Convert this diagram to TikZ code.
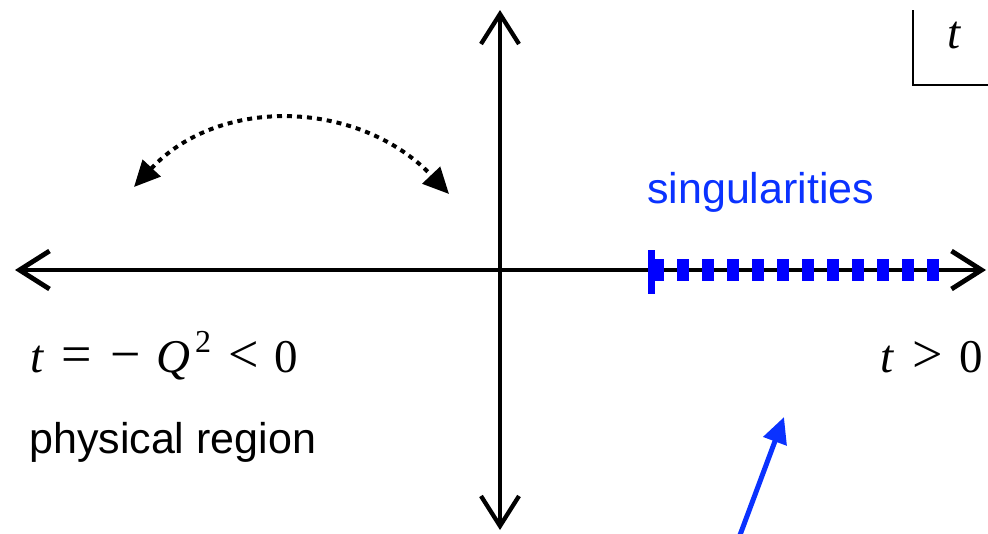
\documentclass[tikz,border=0pt]{standalone}
\usepackage{fontspec}
\setmainfont{Liberation Sans}
\newfontfamily\timesfont{Liberation Serif}
\usetikzlibrary{arrows.meta}
\definecolor{singblue}{RGB}{0,0,255}
\definecolor{textblue}{RGB}{10,50,255}
\definecolor{pointblue}{RGB}{10,50,255}
\newcommand{\bigtext}{\fontsize{43}{50}\selectfont}
\newcommand{\mathtext}{\timesfont\fontsize{47}{50}\selectfont}
\newcommand{\mathsym}[1]{{\fontsize{54}{60}\selectfont\upshape #1}}
\newcommand{\supertwo}{\raisebox{20pt}{\fontsize{32}{32}\selectfont\upshape 2}}

\begin{document}
\begin{tikzpicture}
	[x=1pt, y=-1pt,
	axis/.style={line width=4.8pt, {Straight Barb[length=30pt,width=38pt]}-{Straight Barb[length=30pt,width=38pt]}},
	label/.style={inner sep=0pt, anchor=base west, font=\bigtext},
	formula/.style={inner sep=0pt, anchor=base west, font=\mathtext},
	sing/.style={singblue, line width=22pt, dash pattern=on 12pt off 13pt}]
	\useasboundingbox (0,0) rectangle (988,533);
	% axes
	\coordinate (west) at (15,270);
	\coordinate (east) at (986,270);
	\coordinate (north) at (500,10);
	\coordinate (south) at (500,530);
	\draw[axis] (west) -- (east);
	\draw[axis, line width=4.3pt] (south) -- (north);
	% corner box
	\coordinate (boxtop) at (913,10);
	\coordinate (boxcorner) at (913,85);
	\coordinate (boxend) at (988,85);
	\draw[line width=2.2pt] (boxtop) -- (boxcorner) -- (boxend);
	\node[formula, anchor=base] (tvar) at (954,48) {\itshape t};
	% dotted arc
	\coordinate (arcleft) at (134,187);
	\coordinate (arcright) at (449,194);
	\draw[line width=4pt, dash pattern=on 5pt off 5pt,
		{Triangle[length=26pt,width=24pt]}-{Triangle[length=26pt,width=24pt]}]
		(arcleft) .. controls (220,95) and (360,100) .. (arcright);
	% singularities
	\coordinate (cutstart) at (652,270);
	\coordinate (cutend) at (940,270);
	\draw[sing] (cutstart) -- (cutend);
	\draw[singblue, line width=7pt] (651,250) -- (651,294);
	\node[label, textblue] (singtext) at (647,203) {singularities};
	% labels
	\node[formula] (tneg) at (30,372)
		{\itshape t\hspace{18pt}\mathsym{=}\hspace{19pt}\mathsym{\textminus}\hspace{15pt}\itshape Q\kern5pt\supertwo\hspace{17pt}\mathsym{<}\hspace{16pt}\upshape 0};
	\node[formula, anchor=base east] (tpos) at (983,372)
		{\itshape t\hspace{19pt}\mathsym{>}\hspace{16pt}\upshape 0};
	\node[label] (phys) at (29,453) {physical region};
	% pointer
	\coordinate (pointfoot) at (740,535);
	\coordinate (pointtip) at (784,417);
	\draw[pointblue, line width=5pt, -{Triangle[length=26pt,width=24pt]}] (pointfoot) -- (pointtip);
\end{tikzpicture}
\end{document}
